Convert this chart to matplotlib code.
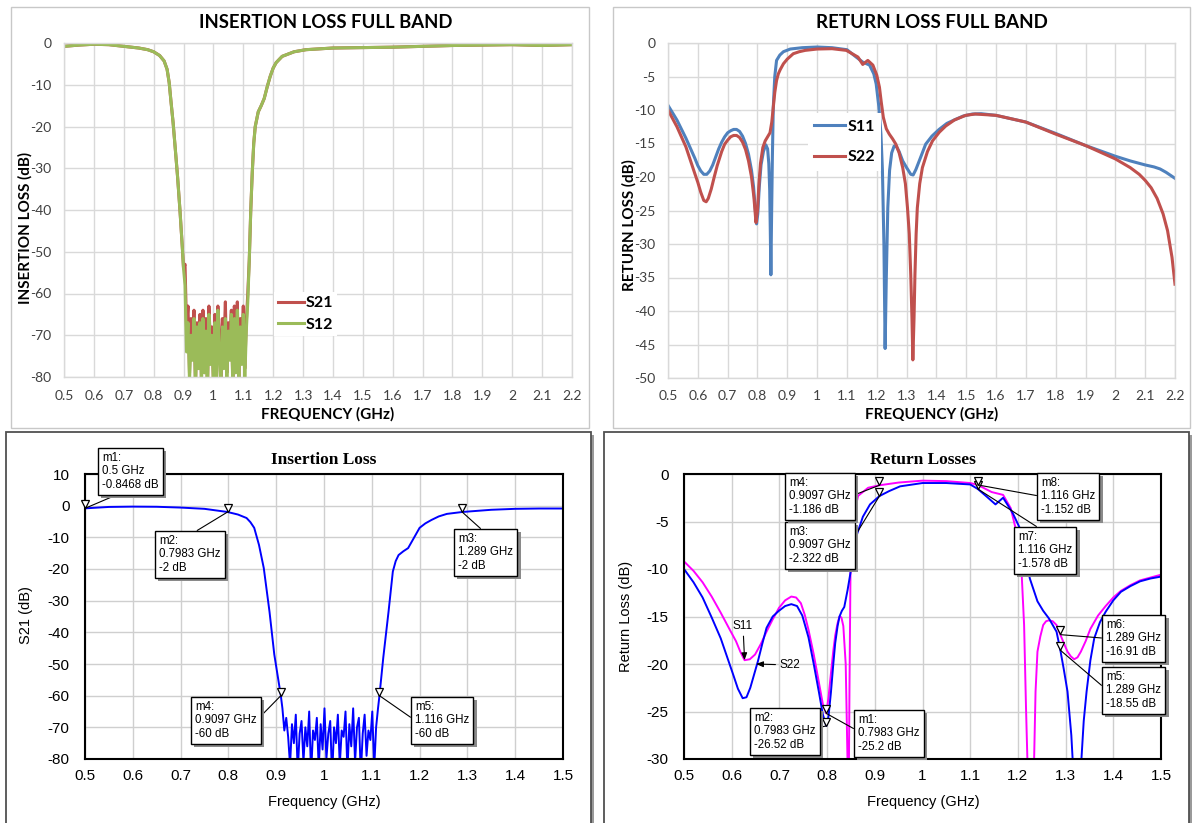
import matplotlib
matplotlib.use('Agg')
import matplotlib.pyplot as plt
import matplotlib.patheffects as pe
from matplotlib.patches import Rectangle
from matplotlib.transforms import offset_copy
import numpy as np

# ---------------- data ----------------
# top left: insertion loss full band (S21 / S12)
il_f_lo = [0.5, 0.55, 0.6, 0.65, 0.7, 0.75, 0.78, 0.8, 0.82, 0.835, 0.845, 0.852,
           0.858, 0.865, 0.872, 0.88, 0.888, 0.896, 0.9]
il_db_lo = [-0.8, -0.5, -0.3, -0.4, -0.8, -1.2, -1.6, -2.1, -3.0, -4.3, -6.3, -9.5,
            -14, -19, -25, -32, -40, -49, -54]
il_f_noise = [0.905, 0.910, 0.915, 0.920, 0.925, 0.930, 0.935, 0.940, 0.945, 0.950,
              0.955, 0.960, 0.965, 0.970, 0.975, 0.980, 0.985, 0.990, 0.995, 1.000,
              1.005, 1.010, 1.015, 1.020, 1.025, 1.030, 1.035, 1.040, 1.045, 1.050,
              1.055, 1.060, 1.065, 1.070, 1.075, 1.080, 1.085, 1.090, 1.095, 1.100,
              1.105, 1.110, 1.115]
s21_noise = [-53, -68, -63, -79, -66, -74, -64, -82, -67, -71, -65, -80, -64, -76, -66,
             -83, -63, -72, -68, -81, -65, -77, -63, -70, -84, -66, -73, -62, -79, -67,
             -71, -64, -82, -63, -75, -62, -80, -66, -72, -63, -78, -67, -60]
s12_noise = [-58, -74, -67, -81, -70, -76, -66, -83, -68, -78, -67, -82, -66, -79, -69,
             -84, -65, -77, -70, -82, -67, -80, -64, -75, -83, -68, -78, -66, -81, -69,
             -76, -65, -83, -66, -79, -64, -82, -68, -77, -65, -81, -69, -62]
il_f_hi = [1.12, 1.125, 1.13, 1.135, 1.14, 1.15, 1.16, 1.17, 1.18, 1.19, 1.2, 1.21,
           1.23, 1.27, 1.31, 1.4, 1.5, 1.6, 1.7, 1.8, 1.9, 2.0, 2.1, 2.2]
il_db_hi = [-52, -40, -31, -24, -20, -16.5, -15, -13.3, -10.5, -8, -6, -4.7,
            -3.2, -2.1, -1.6, -1.2, -1.1, -1.0, -0.8, -0.6, -0.5, -0.4, -0.6, -0.4]

# top right: return loss full band
rl_f_s11 = [0.5, 0.53, 0.56, 0.59, 0.6, 0.61, 0.62, 0.63, 0.64, 0.65, 0.66, 0.67, 0.68,
            0.69, 0.7, 0.71, 0.72, 0.73, 0.74, 0.75, 0.76, 0.77, 0.78, 0.787, 0.793,
            0.797, 0.801, 0.806, 0.812, 0.82, 0.828, 0.834, 0.838, 0.841, 0.843, 0.845,
            0.847, 0.85, 0.853, 0.858, 0.864, 0.875, 0.887, 0.91, 0.95, 1.0, 1.05, 1.1,
            1.131, 1.153, 1.176, 1.19, 1.198, 1.207, 1.214, 1.219, 1.224, 1.228, 1.232,
            1.237, 1.243, 1.25, 1.258, 1.264, 1.275, 1.287, 1.3, 1.314, 1.322, 1.331,
            1.345, 1.364, 1.385, 1.409, 1.435, 1.464, 1.49, 1.52, 1.55, 1.6, 1.7, 1.8,
            1.9, 2.0, 2.05, 2.1, 2.13, 2.15, 2.17, 2.2]
rl_db_s11 = [-9.3, -11.5, -14.2, -17.2, -18.3, -19.1, -19.6, -19.6, -19.1, -18.2, -17.0,
             -15.8, -14.8, -14.0, -13.4, -13.1, -12.9, -12.9, -13.2, -13.9, -15.0, -16.6,
             -19.0, -21.5, -25.0, -27.0, -25.5, -21.5, -18.2, -16.2, -15.2, -15.8, -18.0,
             -22.0, -28.0, -34.6, -27.0, -17.0, -9.6, -5.0, -2.6, -1.8, -1.3, -0.9, -0.7,
             -0.6, -0.7, -1.0, -2.1, -2.85, -3.3, -4.6, -6.1, -9.5, -13.6, -19.0, -30.0,
             -45.6, -35.0, -24.6, -19.0, -16.4, -15.4, -15.3, -16.2, -17.6, -18.6, -19.6,
             -19.7, -18.9, -17.3, -15.1, -13.9, -12.9, -12.0, -11.4, -10.9, -10.6, -10.55,
             -10.8, -11.8, -13.5, -15.3, -16.9, -17.6, -18.2, -18.5, -18.8, -19.3, -20.2]
rl_f_s22 = [0.5, 0.53, 0.56, 0.59, 0.6, 0.61, 0.62, 0.628, 0.635, 0.645, 0.655, 0.665,
            0.68, 0.69, 0.7, 0.71, 0.72, 0.73, 0.74, 0.75, 0.76, 0.77, 0.78, 0.788,
            0.795, 0.8, 0.805, 0.81, 0.818, 0.826, 0.834, 0.842, 0.848, 0.853, 0.858,
            0.864, 0.87, 0.876, 0.887, 0.9, 0.92, 0.94, 0.96, 1.0, 1.05, 1.098, 1.137,
            1.153, 1.17, 1.187, 1.2, 1.209, 1.215, 1.222, 1.232, 1.242, 1.253, 1.264,
            1.275, 1.287, 1.296, 1.303, 1.309, 1.314, 1.318, 1.321, 1.325, 1.328, 1.332,
            1.336, 1.344, 1.353, 1.37, 1.387, 1.41, 1.431, 1.46, 1.498, 1.53, 1.6, 1.7,
            1.8, 1.9, 2.0, 2.05, 2.08, 2.1, 2.12, 2.14, 2.16, 2.175, 2.19, 2.2]
rl_db_s22 = [-10.0, -12.5, -15.5, -19.5, -20.8, -22.3, -23.5, -23.7, -23.2, -21.8, -20.0,
             -18.3, -16.2, -15.1, -14.5, -14.0, -13.8, -13.8, -14.1, -14.8, -15.9, -17.6,
             -20.0, -23.0, -26.8, -25.0, -21.0, -18.0, -15.6, -14.6, -14.0, -13.4, -11.8,
             -9.6, -7.4, -5.6, -4.6, -4.0, -3.1, -2.4, -1.6, -1.3, -1.1, -0.9, -0.85,
             -1.1, -2.1, -3.2, -2.6, -3.3, -4.8, -6.6, -8.8, -11.1, -12.8, -13.6, -14.3,
             -15.1, -16.4, -18.6, -21.0, -24.6, -28.5, -34.6, -41.0, -47.3, -41.0, -34.6,
             -28.5, -24.6, -21.0, -18.6, -16.2, -14.6, -13.3, -12.4, -11.5, -10.8, -10.6,
             -10.8, -11.8, -13.6, -15.3, -17.3, -18.6, -19.6, -20.5, -21.6, -23.2, -25.5,
             -28.0, -32.0, -36.0]

# bottom left: simulated S21
bl_f_lo = [0.5, 0.55, 0.6, 0.65, 0.7, 0.75, 0.7983, 0.82, 0.838, 0.846, 0.854, 0.864,
           0.874, 0.886, 0.896, 0.9097]
bl_db_lo = [-0.85, -0.4, -0.3, -0.35, -0.6, -1.0, -2.0, -2.8, -3.9, -5.2, -7.0, -12.4,
            -19.7, -33.5, -47, -60]
bl_f_noise = [0.913, 0.917, 0.921, 0.925, 0.929, 0.933, 0.937, 0.941, 0.945, 0.949,
              0.953, 0.957, 0.961, 0.965, 0.969, 0.973, 0.977, 0.981, 0.985, 0.989,
              0.993, 0.997, 1.001, 1.005, 1.009, 1.013, 1.017, 1.021, 1.025, 1.029,
              1.033, 1.037, 1.041, 1.045, 1.049, 1.053, 1.057, 1.061, 1.065, 1.069,
              1.073, 1.077, 1.081, 1.085, 1.089, 1.093, 1.097, 1.101, 1.105, 1.109, 1.113]
bl_db_noise = [-64, -71, -67, -73, -82, -69, -75, -66, -84, -72, -68, -81, -70, -76, -65,
               -85, -71, -74, -67, -83, -69, -77, -64, -80, -72, -68, -86, -70, -75, -66,
               -82, -71, -73, -65, -84, -69, -76, -64, -81, -70, -67, -85, -72, -66, -79,
               -71, -74, -65, -83, -70, -64]
bl_f_hi = [1.116, 1.124, 1.135, 1.144, 1.15, 1.156, 1.166, 1.176, 1.188, 1.2, 1.212,
           1.225, 1.24, 1.257, 1.289, 1.35, 1.4, 1.45, 1.5]
bl_db_hi = [-60, -48, -33.5, -20.8, -17.5, -15.6, -14.4, -13.4, -10.2, -7, -5.6,
            -4.5, -3.4, -2.6, -2.0, -1.3, -1.0, -0.9, -0.9]
bl_mk_name = ['m1', 'm2', 'm3', 'm4', 'm5']
bl_mk_f = [0.5, 0.7983, 1.289, 0.9097, 1.116]
bl_mk_db = [-0.8468, -2, -2, -60, -60]

# bottom right: simulated S11 / S22
br_f_s11 = [0.5, 0.52, 0.539, 0.558, 0.577, 0.595, 0.609, 0.618, 0.627, 0.638, 0.649,
            0.661, 0.673, 0.686, 0.699, 0.712, 0.725, 0.735, 0.745, 0.753, 0.761, 0.772,
            0.783, 0.791, 0.7983, 0.803, 0.808, 0.813, 0.817, 0.822, 0.826, 0.83, 0.834,
            0.839, 0.842, 0.845, 0.847, 0.849, 0.854, 0.865, 0.886, 0.9097, 0.95, 1.0,
            1.05, 1.1, 1.116, 1.145, 1.169, 1.185, 1.197, 1.208, 1.213, 1.217, 1.222,
            1.228, 1.234, 1.237, 1.241, 1.247, 1.253, 1.259, 1.265, 1.273, 1.281, 1.289,
            1.297, 1.304, 1.311, 1.318, 1.325, 1.332, 1.342, 1.352, 1.368, 1.384, 1.4,
            1.416, 1.436, 1.456, 1.478, 1.5]
br_db_s11 = [-9.2, -10.2, -11.4, -12.9, -14.6, -16.3, -17.6, -18.7, -19.6, -19.5, -19.0,
             -17.9, -16.6, -15.3, -14.1, -13.3, -12.9, -13.0, -13.6, -14.8, -16.4, -19.0,
             -22.0, -24.2, -25.2, -23.5, -21.0, -18.6, -17.0, -15.7, -15.0, -15.1, -16.0,
             -20.0, -28.0, -36.0, -22.0, -10.5, -4.8, -2.3, -1.45, -1.186, -0.9, -0.7,
             -0.75, -0.95, -1.152, -1.9, -2.2, -3.6, -6.1, -10.6, -15.9, -24.6, -34.0,
             -38.0, -30.0, -22.9, -18.7, -17.1, -15.9, -15.5, -15.4, -15.5, -15.9, -16.91,
             -17.9, -18.7, -19.2, -19.5, -19.3, -18.7, -17.6, -16.3, -14.9, -13.9, -13.0,
             -12.3, -11.7, -11.2, -10.9, -10.6]
br_f_s22 = [0.5, 0.52, 0.539, 0.558, 0.577, 0.59, 0.603, 0.613, 0.623, 0.631, 0.639,
            0.647, 0.655, 0.664, 0.673, 0.686, 0.699, 0.712, 0.725, 0.737, 0.748, 0.761,
            0.772, 0.783, 0.791, 0.7983, 0.803, 0.808, 0.813, 0.817, 0.822, 0.826, 0.831,
            0.836, 0.843, 0.85, 0.854, 0.861, 0.875, 0.89, 0.9097, 0.93, 0.953, 1.0,
            1.05, 1.1, 1.116, 1.135, 1.153, 1.169, 1.189, 1.205, 1.217, 1.225, 1.241,
            1.253, 1.265, 1.281, 1.289, 1.296, 1.304, 1.312, 1.318, 1.325, 1.332, 1.338,
            1.344, 1.352, 1.36, 1.372, 1.384, 1.4, 1.416, 1.436, 1.456, 1.478, 1.5]
br_db_s22 = [-10.0, -11.4, -13.0, -15.1, -17.3, -19.2, -21.1, -22.6, -23.6, -23.5, -22.5,
             -21.1, -19.7, -17.9, -16.2, -15.0, -14.4, -13.9, -13.7, -13.9, -14.9, -17.2,
             -20.0, -23.0, -25.3, -26.52, -25.5, -23.0, -20.0, -17.8, -16.0, -15.0, -14.4,
             -14.0, -12.2, -10.1, -8.0, -6.6, -4.5, -3.2, -2.322, -1.8, -1.3, -0.95,
             -0.95, -1.1, -1.578, -2.4, -3.2, -2.5, -4.1, -5.8, -8.9, -11.0, -13.4, -14.4,
             -15.2, -16.6, -18.55, -20.5, -22.9, -27.5, -33.0, -35.0, -31.0, -26.0, -22.9,
             -19.6, -17.3, -15.6, -14.5, -13.3, -12.4, -11.8, -11.3, -11.0, -10.8]
br_mk_name = ['m1', 'm2', 'm3', 'm4', 'm5', 'm6', 'm7', 'm8']
br_mk_f = [0.7983, 0.7983, 0.9097, 0.9097, 1.289, 1.289, 1.116, 1.116]
br_mk_db = [-25.2, -26.52, -2.322, -1.186, -18.55, -16.91, -1.578, -1.152]

# ---------------- layout helpers ----------------
W, H = 1193, 823
plt.rcParams['font.family'] = ['Lato', 'DejaVu Sans']
fig = plt.figure(figsize=(W / 100, H / 100), dpi=100)


def fx(px):
    return px / W


def fy(py):
    return 1 - py / H


def rect(l, t, r, b):
    return [fx(l), fy(b), (r - l) / W, (b - t) / H]


def frame(l, t, r, b, color, lw, shadow=False):
    if shadow:
        fig.add_artist(Rectangle((fx(l + 3), fy(b + 3)), (r - l) / W, (b - t) / H,
                                 transform=fig.transFigure, fc='#9a9a9a', ec='none',
                                 zorder=-3))
    fig.add_artist(Rectangle((fx(l), fy(b)), (r - l) / W, (b - t) / H,
                             transform=fig.transFigure, fc='white', ec=color, lw=lw,
                             zorder=-2))


frame(11, 7, 589, 428, '#c8c8c8', 1.0)
frame(613, 7, 1190, 428, '#c8c8c8', 1.0)
frame(6, 432, 591, 840, '#505050', 1.3, shadow=True)
frame(604, 432, 1189, 840, '#505050', 1.3, shadow=True)


def excel_axes(ax, ylim, yticks):
    ax.set_xlim(0.5, 2.2)
    ax.set_ylim(*ylim)
    xt = np.round(np.arange(0.5, 2.2001, 0.1), 1)
    ax.set_xticks(xt)
    ax.set_xticklabels([f'{v:g}' for v in xt])
    ax.set_yticks(yticks)
    ax.set_yticklabels([f'{v:g}' for v in yticks])
    for s in ax.spines.values():
        s.set_color('#d9d9d9')
        s.set_linewidth(1)
    ax.grid(True, color='#d9d9d9', lw=1)
    ax.set_axisbelow(True)
    ax.tick_params(length=0, labelsize=10, labelcolor='#404040', pad=9)


def ads_axes(ax, ylim, yticks):
    ax.set_xlim(0.5, 1.5)
    ax.set_ylim(*ylim)
    xt = np.round(np.arange(0.5, 1.5001, 0.1), 1)
    ax.set_xticks(xt)
    ax.set_xticklabels([f'{v:g}' for v in xt])
    ax.set_yticks(yticks)
    ax.set_yticklabels([f'{v:g}' for v in yticks])
    for s in ax.spines.values():
        s.set_color('black')
        s.set_linewidth(1.5)
        s.set_zorder(5)
    ax.grid(True, color='#cfcfcf', lw=1)
    ax.set_axisbelow(True)
    ax.tick_params(length=0, labelsize=11, pad=7)
    ax.tick_params(axis='y', pad=11)
    for lab in ax.get_xticklabels() + ax.get_yticklabels():
        lab.set_family('Liberation Sans')


def marker_boxes(ax, names, fs, dbs, boxes):
    tri = offset_copy(ax.transData, fig=fig, y=3.0, units='points')
    ax.plot(fs, dbs, ls='none', marker='v', ms=6, mfc='white', mec='black',
            mew=0.9, transform=tri, clip_on=False, zorder=6)
    for name, f, db, (bx, by, rp) in zip(names, fs, dbs, boxes):
        ann = ax.annotate(f'{name}:\n{f:g} GHz\n{db:g} dB', xy=(f, db), xycoords='data',
                          xytext=(fx(bx + 4), fy(by + 4)), textcoords='figure fraction',
                          ha='left', va='top', fontsize=8.3, family='Liberation Sans',
                          linespacing=1.15, zorder=7, annotation_clip=False,
                          bbox=dict(boxstyle='square,pad=0.35', fc='white', ec='black',
                                    lw=1.0),
                          arrowprops=dict(arrowstyle='-', color='black', lw=0.8,
                                          relpos=rp, shrinkA=0, shrinkB=0))
        ann.get_bbox_patch().set_path_effects(
            [pe.SimplePatchShadow(offset=(2.5, -2.5), shadow_rgbFace='#8a8a8a', alpha=1),
             pe.Normal()])


# ---------------- top left ----------------
ax1 = fig.add_axes(rect(64, 43, 572, 377))
excel_axes(ax1, (-80, 0), list(range(-80, 1, 10)))
ax1.plot(il_f_lo + il_f_noise + il_f_hi, il_db_lo + s21_noise + il_db_hi,
         color='#c0504d', lw=2.2, label='S21')
ax1.plot(il_f_lo + il_f_noise + il_f_hi, il_db_lo + s12_noise + il_db_hi,
         color='#9bbb59', lw=2.2, label='S12')
ax1.legend(loc='center left', bbox_to_anchor=(fx(266), fy(314)),
           bbox_transform=fig.transFigure, frameon=True, fancybox=False,
           edgecolor='none', facecolor='white', framealpha=1, handlelength=1.6,
           handletextpad=0.15, labelspacing=0.45, borderpad=0.25,
           prop={'weight': 'bold', 'size': 11.5})
fig.text(fx(326), fy(22), 'INSERTION LOSS FULL BAND', ha='center', va='center',
         fontsize=13.3, fontweight='bold')
fig.text(fx(328), fy(414), 'FREQUENCY (GHz)', ha='center', va='center',
         fontsize=11, fontweight='bold')
fig.text(fx(25), fy(228), 'INSERTION LOSS (dB)', ha='center', va='center',
         rotation=90, fontsize=11, fontweight='bold')

# ---------------- top right ----------------
ax2 = fig.add_axes(rect(668, 43, 1175, 378))
excel_axes(ax2, (-50, 0), list(range(-50, 1, 5)))
ax2.plot(rl_f_s11, rl_db_s11, color='#4f81bd', lw=2.2, label='S11')
ax2.plot(rl_f_s22, rl_db_s22, color='#c0504d', lw=2.2, label='S22')
ax2.legend(loc='center left', bbox_to_anchor=(fx(800), fy(142)),
           bbox_transform=fig.transFigure, frameon=True, fancybox=False,
           edgecolor='none', facecolor='white', framealpha=1, handlelength=1.9,
           handletextpad=0.15, labelspacing=1.0, borderpad=0.4,
           prop={'weight': 'bold', 'size': 11.5})
fig.text(fx(932), fy(22), 'RETURN LOSS FULL BAND', ha='center', va='center',
         fontsize=13.5, fontweight='bold')
fig.text(fx(932), fy(414), 'FREQUENCY (GHz)', ha='center', va='center',
         fontsize=11, fontweight='bold')
fig.text(fx(629), fy(225), 'RETURN LOSS (dB)', ha='center', va='center',
         rotation=90, fontsize=11, fontweight='bold')

# ---------------- bottom left ----------------
ax3 = fig.add_axes(rect(85, 474, 563, 759))
ads_axes(ax3, (-80, 10), list(range(-80, 11, 10)))
ax3.plot(bl_f_lo + bl_f_noise + bl_f_hi, bl_db_lo + bl_db_noise + bl_db_hi,
         color='#0000ff', lw=1.4)
marker_boxes(ax3, bl_mk_name, bl_mk_f, bl_mk_db,
             [(98, 448, (0.43, 0)), (155, 531, (0.5, 1)), (454, 529, (0.5, 1)),
              (191, 697, (1, 0.5)), (411, 697, (0, 0.5))])
fig.text(fx(324), fy(460), 'Insertion Loss', ha='center', va='center',
         fontsize=12.5, fontweight='bold', family='Liberation Serif')
fig.text(fx(324), fy(802), 'Frequency (GHz)', ha='center', va='center',
         fontsize=10.5, family='Liberation Sans')
fig.text(fx(26), fy(615), 'S21 (dB)', ha='center', va='center', rotation=90,
         fontsize=10.5, family='Liberation Sans')

# ---------------- bottom right ----------------
ax4 = fig.add_axes(rect(684, 474, 1161, 759))
ads_axes(ax4, (-30, 0), list(range(-30, 1, 5)))
ax4.plot(br_f_s11, br_db_s11, color='#ff00ff', lw=1.4)
ax4.plot(br_f_s22, br_db_s22, color='#0000ff', lw=1.4)
marker_boxes(ax4, br_mk_name, br_mk_f, br_mk_db,
             [(854, 710, (0, 0.56)), (750, 708, (1, 0.58)), (785, 522, (1, 0.56)),
              (785, 473, (1, 0.5)), (1102, 667, (0, 0.53)), (1102, 615, (0, 0.5)),
              (1014, 527, (0.47, 1)), (1037, 473, (0, 0.5))])
arrow_kw = dict(arrowstyle='-|>,head_length=0.5,head_width=0.2', color='black', lw=0.8,
                shrinkA=1, shrinkB=0)
s11_label_pt = (br_f_s11[8], br_db_s11[8])
s22_label_pt = (0.651, -20.0)
ax4.annotate('S11', xy=s11_label_pt, xytext=(fx(743), fy(626)),
             textcoords='figure fraction', ha='center', va='center', fontsize=8.5,
             family='Liberation Sans', arrowprops=arrow_kw)
ax4.annotate('S22', xy=s22_label_pt, xytext=(fx(790), fy(665)),
             textcoords='figure fraction', ha='center', va='center', fontsize=8.5,
             family='Liberation Sans', arrowprops=arrow_kw)
fig.text(fx(923), fy(460), 'Return Losses', ha='center', va='center',
         fontsize=12.5, fontweight='bold', family='Liberation Serif')
fig.text(fx(923), fy(802), 'Frequency (GHz)', ha='center', va='center',
         fontsize=10.5, family='Liberation Sans')
fig.text(fx(626), fy(616), 'Return Loss (dB)', ha='center', va='center', rotation=90,
         fontsize=10.5, family='Liberation Sans')

fig.savefig('out.png', dpi=100, facecolor='white')
